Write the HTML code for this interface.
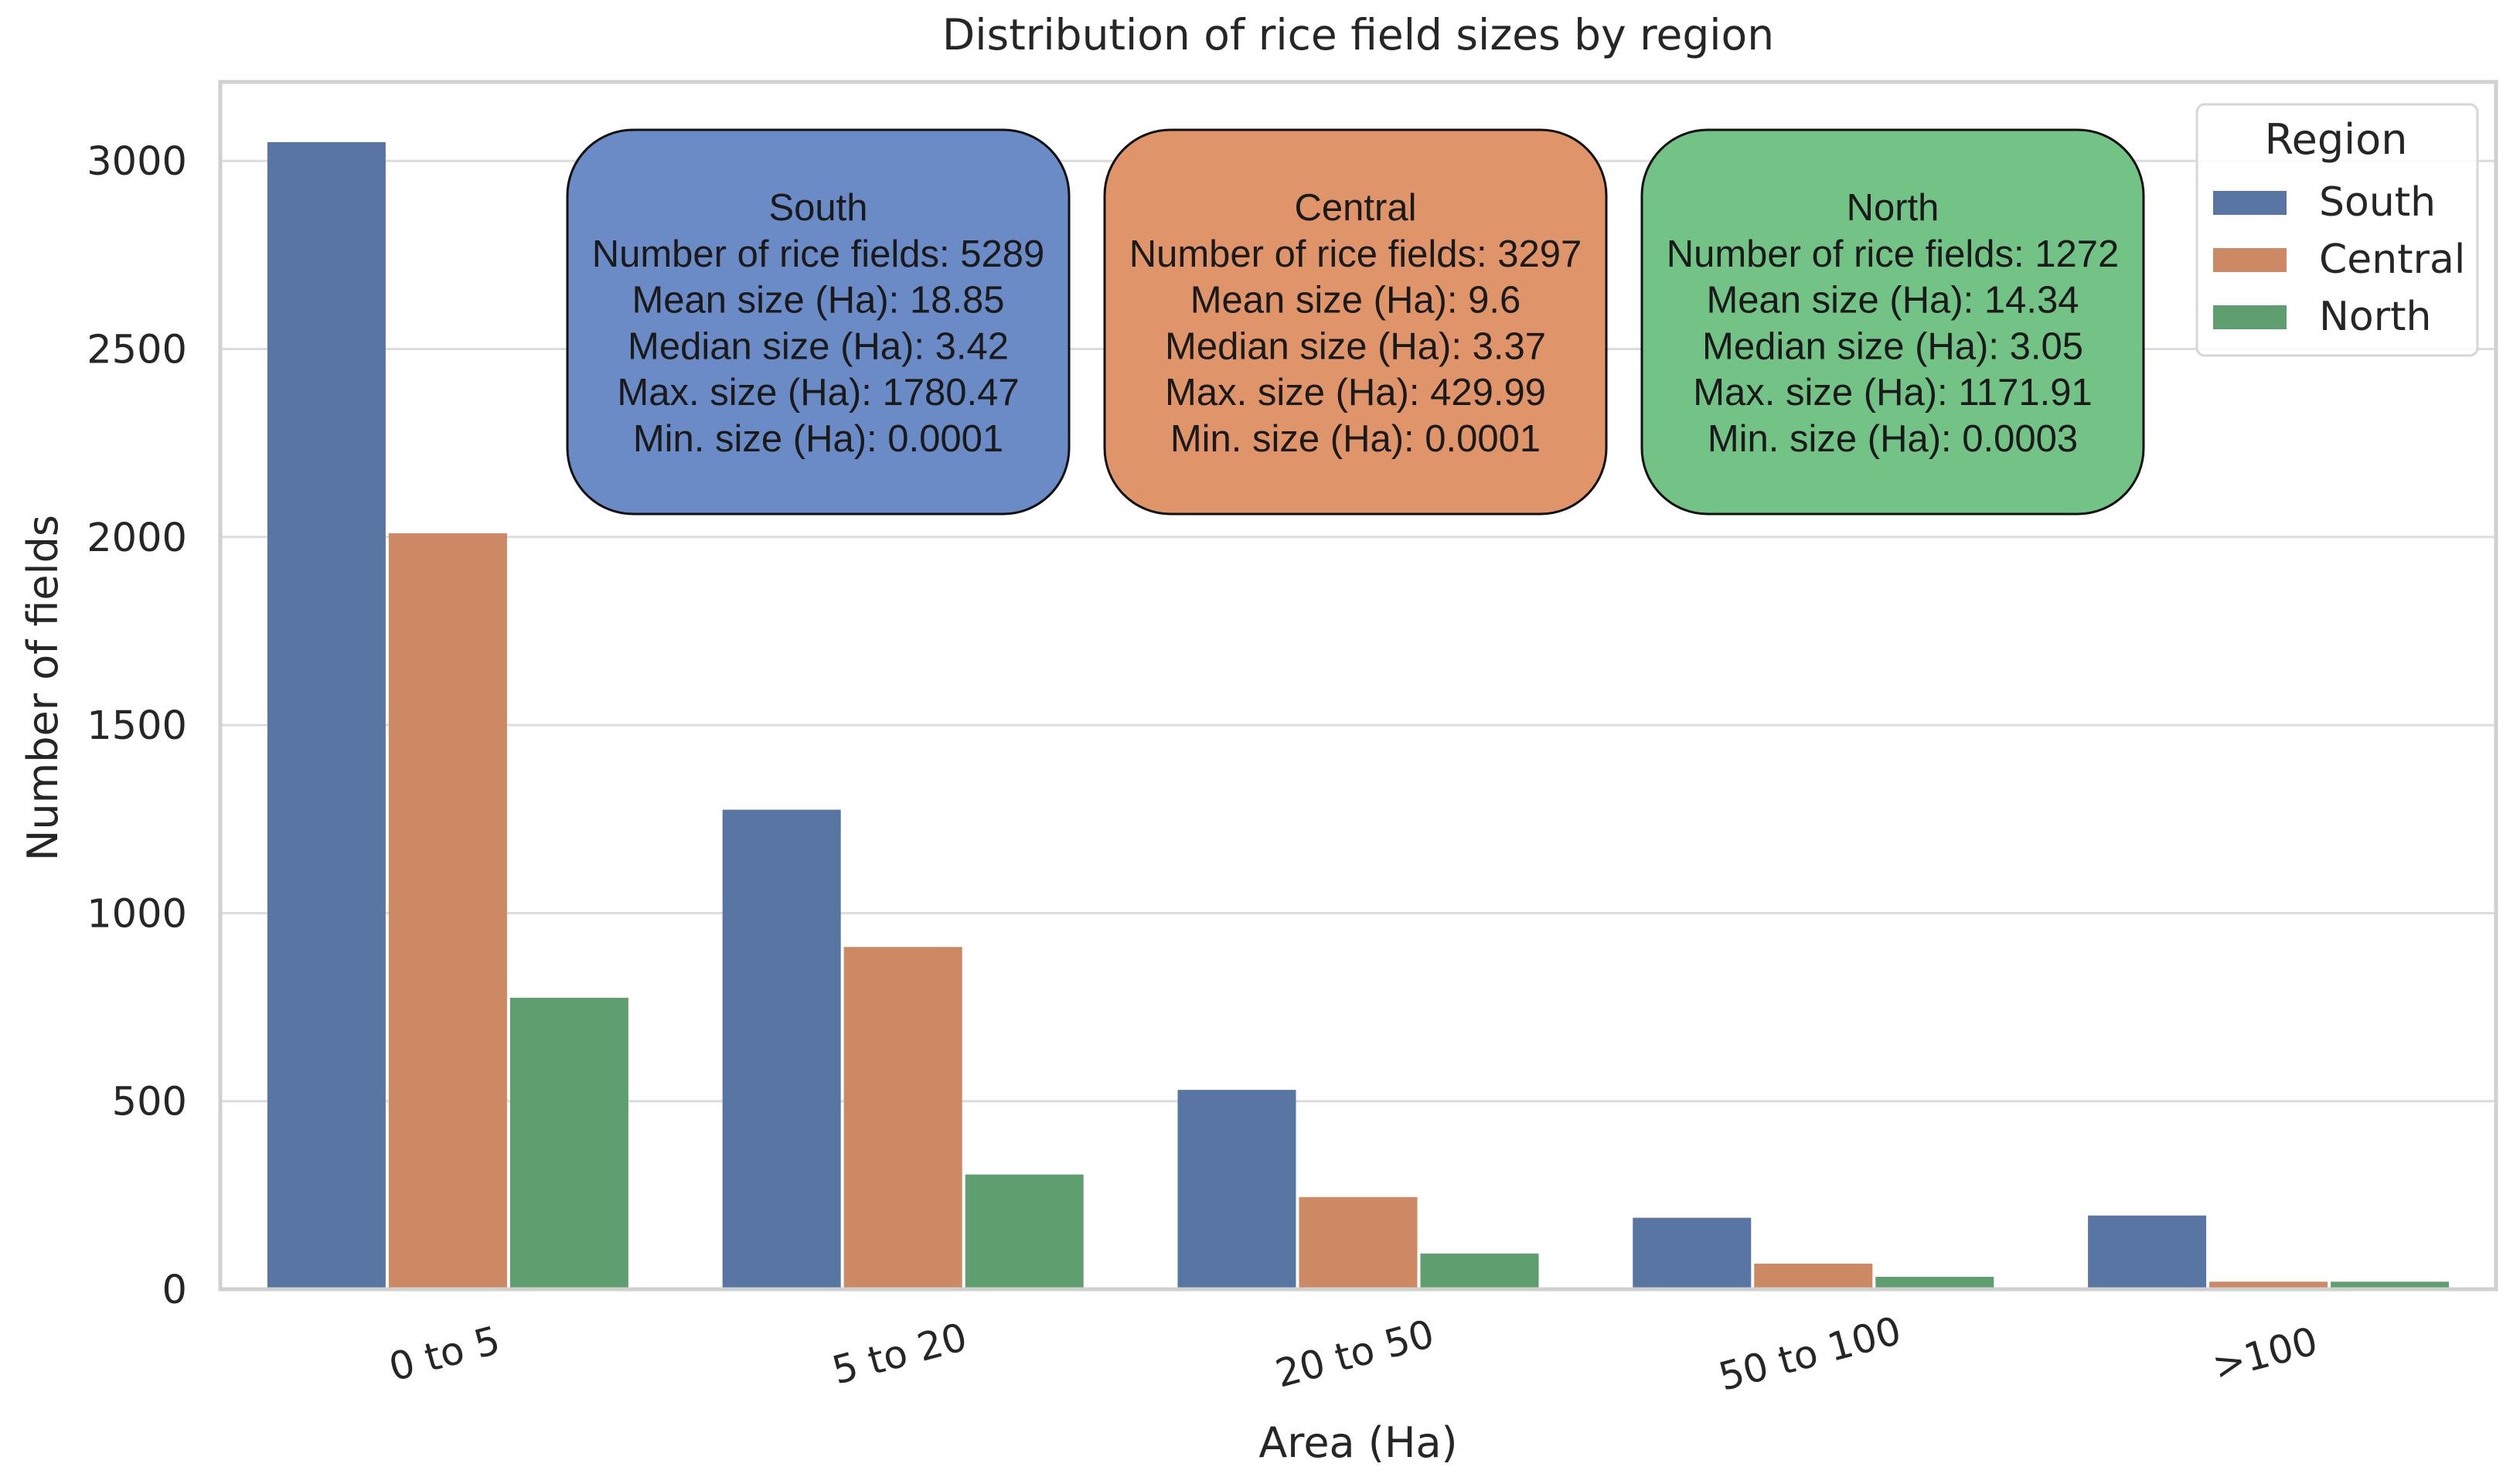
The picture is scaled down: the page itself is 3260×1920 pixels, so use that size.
<!DOCTYPE html>
<html><head><meta charset="utf-8"><style>
html,body{margin:0;padding:0;background:#fff;}
svg{display:block;}
</style></head><body>
<svg id="chart" width="3260" height="1920" xmlns="http://www.w3.org/2000/svg">
<rect x="0" y="0" width="3260" height="1920" fill="#fff"/>
<text x="1757" y="64" text-anchor="middle" font-family="DejaVu Sans, sans-serif" font-size="55" fill="#262626">Distribution of rice field sizes by region</text>
<g id="grid"></g>
<g id="bars"></g>
<rect x="285" y="106" width="2944" height="1562" fill="none" stroke="#d0d0d0" stroke-width="5"/>
<g id="ticks"></g>
<g id="boxes"></g>
<text x="1757" y="1885" text-anchor="middle" font-family="DejaVu Sans, sans-serif" font-size="54" fill="#262626">Area (Ha)</text>
<text x="0" y="0" transform="translate(74,890) rotate(-90)" text-anchor="middle" font-family="DejaVu Sans, sans-serif" font-size="54" fill="#262626">Number of fields</text>
<g id="legend">
<rect x="2842" y="135" width="363" height="325" rx="10" fill="#fff" fill-opacity="0.85" stroke="#d6d6d6" stroke-width="3"/>
<text x="3022" y="199" text-anchor="middle" font-family="DejaVu Sans, sans-serif" font-size="54" fill="#262626">Region</text>
</g>
</svg>
<script>
const categories = ["0 to 5", "5 to 20", "20 to 50", "50 to 100", ">100"];
const regions = ["South", "Central", "North"];
const southValues = [3050, 1275, 530, 190, 196];
const centralValues = [2010, 910, 245, 68, 20];
const northValues = [775, 305, 95, 33, 20];
const yTicks = [0, 500, 1000, 1500, 2000, 2500, 3000];
const boxTitles = ["South", "Central", "North"];
const boxCounts = [5289, 3297, 1272];
const boxMeans = ["18.85", "9.6", "14.34"];
const boxMedians = ["3.42", "3.37", "3.05"];
const boxMaxes = ["1780.47", "429.99", "1171.91"];
const boxMins = ["0.0001", "0.0001", "0.0003"];

const NS = "http://www.w3.org/2000/svg";
const barColors = ["#5975a4", "#cc8963", "#5f9e6e"];
const boxColors = ["#6a8bc5", "#e09469", "#73c387"];
const plotL = 285, plotR = 3229, zeroY = 1668, perUnit = 243.3 / 500;
const groupW = (plotR - plotL) / categories.length;
const barW = groupW * 0.8 / 3;
function yScale(v) { return zeroY - v * perUnit; }
function xGroup(i) { return plotL + groupW * (i + 0.5); }
function mk(tag, attrs, parent) {
  const e = document.createElementNS(NS, tag);
  for (const k in attrs) e.setAttribute(k, attrs[k]);
  parent.appendChild(e);
  return e;
}
const grid = document.getElementById('grid');
const ticks = document.getElementById('ticks');
yTicks.forEach(t => {
  const l = mk('line', {x1: plotL, x2: plotR, y1: yScale(t), y2: yScale(t), stroke: '#dcdcdc', 'stroke-width': 3}, grid);
  
  
  const tx = mk('text', {x: 242, y: yScale(t) + 18, 'text-anchor': 'end', 'font-family': 'DejaVu Sans, sans-serif', 'font-size': 51, fill: '#262626'}, ticks);
  tx.textContent = t;
  
  
});
const series = [southValues, centralValues, northValues];
const barsG = document.getElementById('bars');
categories.forEach((c, i) => {
  series.forEach((vals, s) => {
    const x = xGroup(i) - 1.5 * barW + s * barW;
    const r = mk('rect', {x: x + 2, y: yScale(vals[i]), width: barW - 4, height: zeroY - yScale(vals[i]), fill: barColors[s]}, barsG);
    
    
  });
  const tx = mk('text', {x: 0, y: 0, transform: `translate(${xGroup(i)},1768) rotate(-15)`, 'text-anchor': 'middle', 'font-family': 'DejaVu Sans, sans-serif', 'font-size': 50, fill: '#262626'}, ticks);
  tx.textContent = c;
  
  
});
const boxesG = document.getElementById('boxes');
const boxX = [734, 1429, 2124];
boxTitles.forEach((t, i) => {
  const r = mk('rect', {x: boxX[i], y: 168, width: 649, height: 497, rx: 85, fill: boxColors[i], stroke: '#111', 'stroke-width': 3}, boxesG);
  
  
  const lines = [t, 'Number of rice fields: ' + boxCounts[i], 'Mean size (Ha): ' + boxMeans[i], 'Median size (Ha): ' + boxMedians[i], 'Max. size (Ha): ' + boxMaxes[i], 'Min. size (Ha): ' + boxMins[i]];
  lines.forEach((ln, j) => {
    const tx = mk('text', {x: boxX[i] + 324.5, y: 285 + j * 59.8, 'text-anchor': 'middle', 'font-family': 'Liberation Sans, sans-serif', 'font-size': 49, fill: '#1a1a1a'}, boxesG);
    tx.textContent = ln;
    
    
  });
});
const leg = document.getElementById('legend');
regions.forEach((rg, i) => {
  const y = 247 + i * 74;
  const p = mk('rect', {x: 2863, y: y, width: 95, height: 31, fill: barColors[i]}, leg);
  
  
  const tx = mk('text', {x: 3000, y: y + 32, 'font-family': 'DejaVu Sans, sans-serif', 'font-size': 52, fill: '#262626'}, leg);
  tx.textContent = rg;
  
  
});
</script>
</body></html>
